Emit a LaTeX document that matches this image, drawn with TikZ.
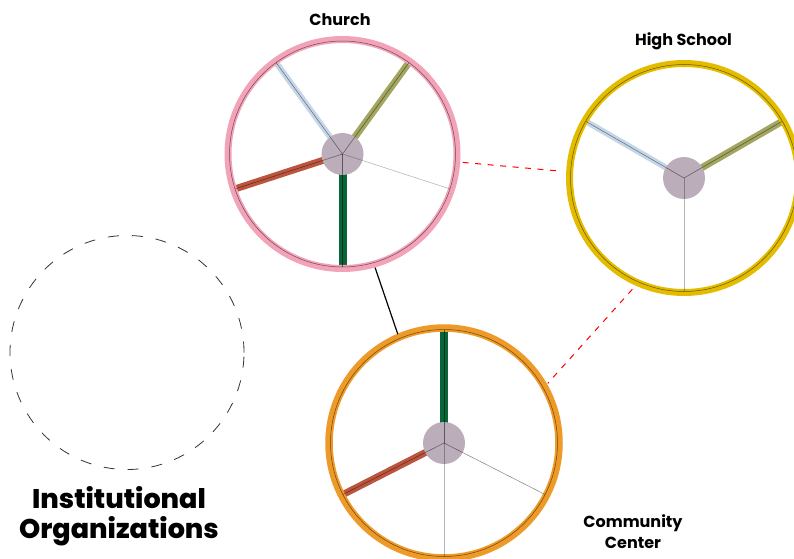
\documentclass[tikz,border=0pt]{standalone}
\usepackage{fontspec}
\setmainfont{Poppins}
\newfontfamily\heavyfont{Poppins ExtraBold}
\usetikzlibrary{calc}

\definecolor{rimpink}{HTML}{F3A3B8}
\definecolor{rimgold}{HTML}{E3BC00}
\definecolor{rimorange}{HTML}{EE9A28}
\definecolor{hubmauve}{HTML}{BBADBA}
\definecolor{spblue}{HTML}{C5D6E8}
\definecolor{spolive}{HTML}{A3A660}
\definecolor{sprust}{HTML}{BB553E}
\definecolor{spgreen}{HTML}{086638}

\begin{document}
\begin{tikzpicture}[x=1pt,y=1pt,
  wheel/.style={circle, minimum size=236pt, inner sep=0pt},
  rim/.style={line width=7pt},
  rimline/.style={line width=0.5pt, black, opacity=0.55},
  hub/.style={circle, fill=hubmauve, minimum size=42pt, inner sep=0pt},
  fine/.style={line width=0.5pt, black, opacity=0.5},
  faint/.style={line width=0.8pt, black, opacity=0.28},
  tag/.style={font=\bfseries\fontsize{16}{21}\selectfont, align=center, inner sep=0pt},
  bigtag/.style={font=\heavyfont\fontsize{27}{29.5}\selectfont, align=center, inner sep=0pt},
  link/.style={line width=1.2pt, black},
  dashlink/.style={line width=1pt, red, dash pattern=on 6pt off 6.5pt},
  ghost/.style={circle, draw=black!80, line width=0.8pt, dash pattern=on 11pt off 13pt,
                minimum size=234pt, inner sep=0pt}
]
\useasboundingbox (0,0) rectangle (794,558);

% wheel outlines (invisible nodes used as anchors)
\node[wheel] (church) at (342.5,404) {};
\node[wheel] (school) at (684,380) {};
\node[wheel] (center) at (444,115) {};
\node[ghost] (empty) at (127,205.5) {};

% ---- Church: five spokes
\foreach \a/\c/\w in {126/spblue/6, 54/spolive/7, 198/sprust/7, 270/spgreen/8}
  \draw[line width=\w pt, \c] ($(church.center)+(\a:20)$) -- ($(church.center)+(\a:115)$);
\draw[rim, rimpink] (church.center) circle[radius=114.5];
\draw[rimline] (church.center) circle[radius=113];
\node[hub] (churchhub) at (church.center) {};
\foreach \a in {126,54,198,270}
  \draw[fine] (church.center) -- ($(church.center)+(\a:113)$);
\draw[faint, line width=0.6pt] (church.center) -- ($(church.center)+(342:113)$);

% ---- High School: three spokes
\foreach \a/\c/\w in {150/spblue/6, 30/spolive/7}
  \draw[line width=\w pt, \c] ($(school.center)+(\a:20)$) -- ($(school.center)+(\a:115)$);
\draw[rim, rimgold] (school.center) circle[radius=114.5];
\draw[rimline] (school.center) circle[radius=113.5];
\node[hub] (schoolhub) at (school.center) {};
\foreach \a in {150,30}
  \draw[fine] (school.center) -- ($(school.center)+(\a:113)$);
\draw[faint] (school.center) -- ($(school.center)+(270:113)$);

% ---- Community Center: four spokes
\foreach \a/\c/\w in {90/spgreen/8, 207/sprust/7}
  \draw[line width=\w pt, \c] ($(center.center)+(\a:20)$) -- ($(center.center)+(\a:115)$);
\draw[rim, rimorange, line width=7.5pt] (center.center) circle[radius=115];
\draw[rimline] (center.center) circle[radius=113.5];
\node[hub] (centerhub) at (center.center) {};
\foreach \a in {90,207,333}
  \draw[fine] (center.center) -- ($(center.center)+(\a:113)$);
\draw[faint] (center.center) -- ($(center.center)+(270:113)$);

% ---- connections between organizations
\coordinate (cs1) at ($(church.center)+(-4:120.5)$);
\coordinate (cs2) at ($(school.center)+(176.8:125)$);
\coordinate (sc1) at ($(school.center)+(-114.9:122.7)$);
\coordinate (sc2) at ($(center.center)+(29.9:119.7)$);
\draw[link] (church.-74.6) -- (center.113.6);
\draw[dashlink] (cs1) -- (cs2);
\draw[dashlink] (sc1) -- (sc2);

% ---- labels
\node[tag, anchor=base] (churchlbl) at (340,532.7) {Church};
\node[tag, anchor=base] (schoollbl) at (683.5,512.3) {High School};
\node[tag] (centerlbl) at (633,26.5) {Community\\Center};
\node[bigtag] (title) at (119,42) {Institutional\\Organizations};
\end{tikzpicture}
\end{document}
